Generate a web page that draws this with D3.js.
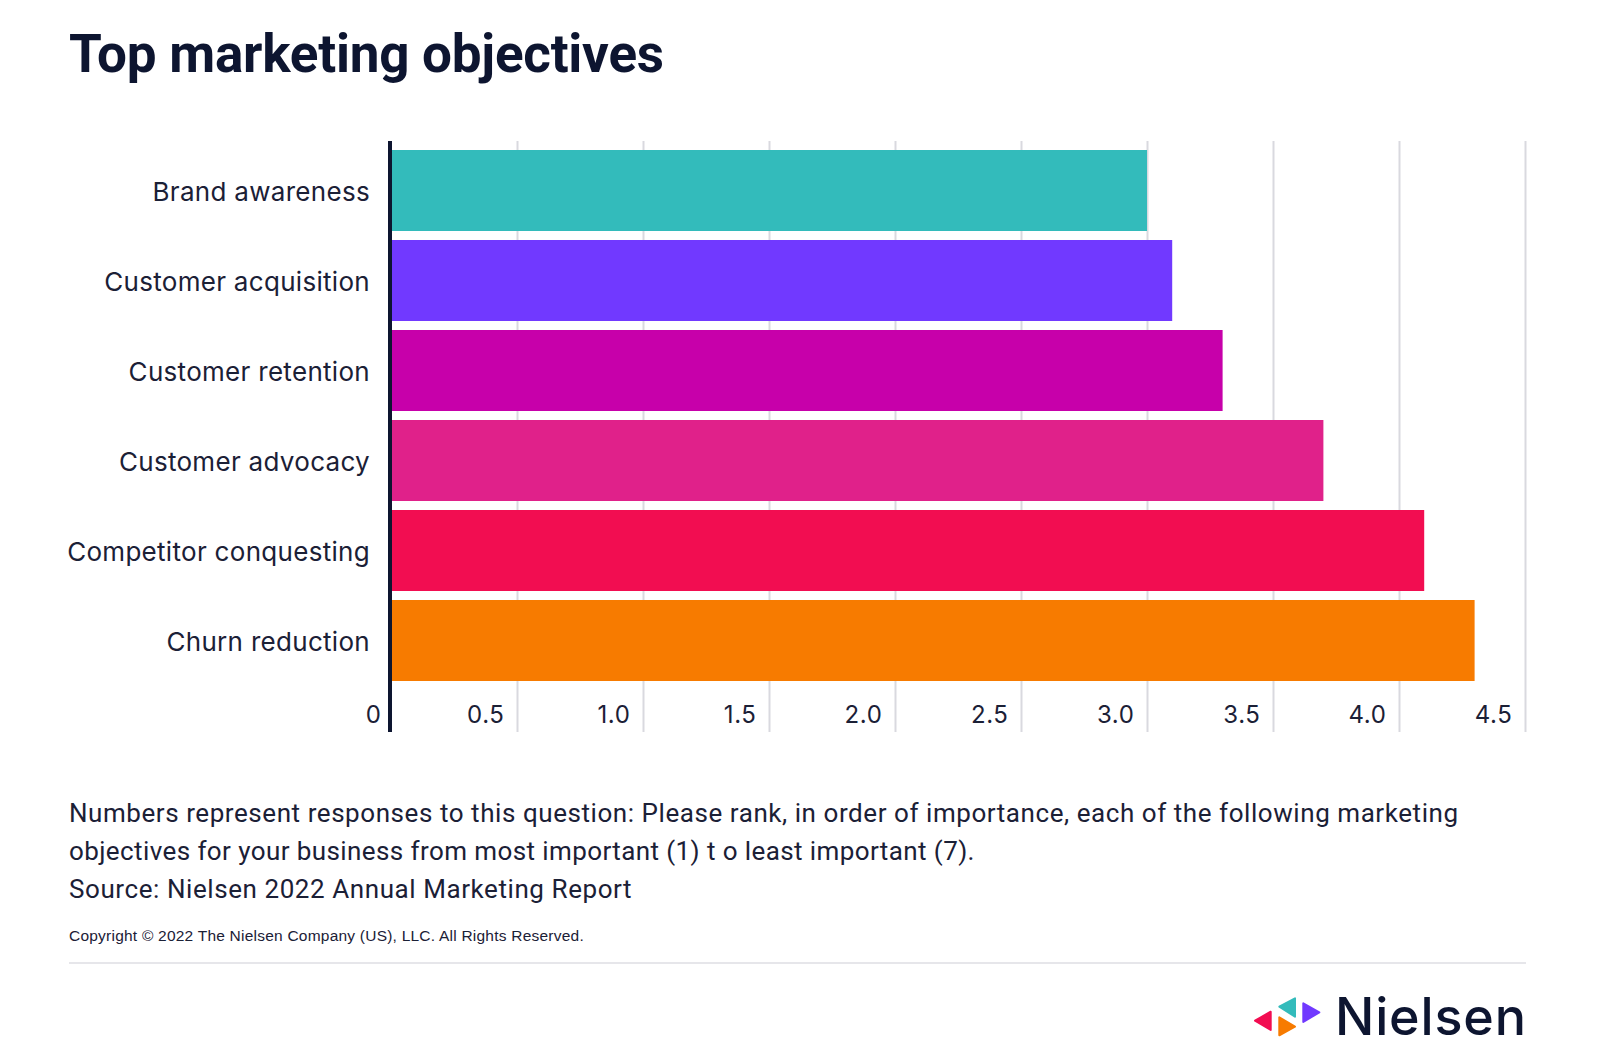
<!DOCTYPE html>
<html>
<head>
<meta charset="utf-8">
<script src="https://cdn.jsdelivr.net/npm/d3@7"></script>
<style>
  html, body { margin: 0; padding: 0; background: #ffffff; }
  svg { display: block; }
</style>
</head>
<body>
<svg id="chart" width="1600" height="1057"></svg>
<script>
// ---- data ----
const categories = ["Brand awareness", "Customer acquisition", "Customer retention", "Customer advocacy", "Competitor conquesting", "Churn reduction"];
const values = [3.0, 3.1, 3.3, 3.7, 4.1, 4.3];
const barColors = ["#33BBBB", "#7139FF", "#C700AA", "#E0218A", "#F20D51", "#F77B00"];
const tickValues = [0, 0.5, 1.0, 1.5, 2.0, 2.5, 3.0, 3.5, 4.0, 4.5];
const tickLabels = ["0", "0.5", "1.0", "1.5", "2.0", "2.5", "3.0", "3.5", "4.0", "4.5"];
const titleText = "Top marketing objectives";
const noteLines = [
  "Numbers represent responses to this question: Please rank, in order of importance, each of the following marketing",
  "objectives for your business from most important (1) t o least important (7).",
  "Source: Nielsen 2022 Annual Marketing Report"
];
const copyrightText = "Copyright \u00A9 2022 The Nielsen Company (US), LLC. All Rights Reserved.";
const logoText = "Nielsen";
const logoColors = ["#F20D51", "#33BBBB", "#F77B00", "#7139FF"];

// ---- layout ----
const svg = d3.select("#chart");
const navy = "#0D1530";
const textCol = "#1B2036";
const plotTop = 141, plotBottom = 732;

const x = d3.scaleLinear().domain([0, 4.5]).range([391, 1525]);
const y = d3.scaleBand().domain(categories).range([145.5, 685.5]).paddingInner(0.1).paddingOuter(0.05);

// helper: fit letter-spacing so a text spans a target width
function fit(sel, target) {
  const node = sel.node();
  const n = sel.text().length;
  const w = node.getComputedTextLength();
  const ls = (target - w) / Math.max(1, n - 1);
  sel.attr("letter-spacing", ls.toFixed(3));
}

// title
const title = svg.append("text")
  .attr("x", 69).attr("y", 71.5)
  .attr("font-family", "Roboto, 'Noto Sans', sans-serif")
  .attr("font-weight", 700).attr("font-size", 53)
  .attr("fill", navy).text(titleText);
fit(title, 595);

// gridlines
const grid = svg.append("g").attr("transform", `translate(0,${plotTop})`)
  .call(d3.axisBottom(x).tickValues(tickValues.slice(1)).tickSize(plotBottom - plotTop).tickFormat(""));
grid.select(".domain").remove();
grid.selectAll("line").attr("stroke", "#D9D9DF").attr("stroke-width", 2);

// bars
svg.append("g").selectAll("rect").data(categories).join("rect")
  .attr("x", x(0))
  .attr("y", d => y(d))
  .attr("width", (d, i) => x(values[i]) - x(0))
  .attr("height", y.bandwidth())
  .attr("fill", (d, i) => barColors[i]);

// zero axis line
svg.append("line")
  .attr("x1", x(0) - 1).attr("x2", x(0) - 1)
  .attr("y1", plotTop).attr("y2", plotBottom)
  .attr("stroke", navy).attr("stroke-width", 4);

// x tick labels
const xAxis = svg.append("g").attr("transform", `translate(0,722.7)`)
  .call(d3.axisBottom(x).tickValues(tickValues).tickSize(0).tickPadding(0)
    .tickFormat((d, i) => tickLabels[i]));
xAxis.select(".domain").remove();
xAxis.selectAll("text")
  .attr("y", 0).attr("dy", 0)
  .attr("x", (d, i) => i === 0 ? -10 : -13)
  .attr("text-anchor", "end")
  .attr("font-family", "Inter, 'Noto Sans', sans-serif")
  .attr("font-size", 24)
  .attr("letter-spacing", 0.6)
  .attr("fill", textCol);

// y category labels
const yAxis = svg.append("g").attr("transform", `translate(370,0)`)
  .call(d3.axisLeft(y).tickSize(0).tickPadding(0));
yAxis.select(".domain").remove();
yAxis.selectAll("text")
  .attr("x", 0).attr("dy", 0)
  .attr("y", 10)
  .attr("text-anchor", "end")
  .attr("font-family", "Inter, 'Noto Sans', sans-serif")
  .attr("font-size", 26)
  .attr("letter-spacing", 0.3)
  .attr("fill", textCol);

// footnotes
const noteBase = [821.5, 859.5, 898];
const noteWidths = [1389, 905.5, 562.6];
noteLines.forEach((t, i) => {
  const s = svg.append("text")
    .attr("x", 69).attr("y", noteBase[i])
    .attr("font-family", "Roboto, 'Noto Sans', sans-serif")
    .attr("font-size", 26)
    .attr("fill", textCol).text(t);
  fit(s, noteWidths[i]);
});

// copyright
const cr = svg.append("text")
  .attr("x", 69).attr("y", 941)
  .attr("font-family", "'Liberation Sans', Arial, sans-serif")
  .attr("font-size", 15.5)
  .attr("fill", textCol).text(copyrightText);
fit(cr, 514.7);

// separator
svg.append("line")
  .attr("x1", 69).attr("x2", 1526).attr("y1", 963).attr("y2", 963)
  .attr("stroke", "#E6E6EA").attr("stroke-width", 2);

// logo triangles
const tri = [
  [[1255, 1020.7], [1270.7, 1011.7], [1270.7, 1030]],
  [[1279.3, 1006.7], [1295, 998.3], [1295, 1016.7]],
  [[1279.3, 1017.3], [1279.3, 1035.3], [1295, 1026.7]],
  [[1303.3, 1003.3], [1303.3, 1022], [1319.3, 1012.3]]
];
svg.append("g").selectAll("path").data(tri).join("path")
  .attr("d", d => "M" + d.map(p => p.join(",")).join("L") + "Z")
  .attr("fill", (d, i) => logoColors[i])
  .attr("stroke", (d, i) => logoColors[i])
  .attr("stroke-width", 2).attr("stroke-linejoin", "round");

const logo = svg.append("text")
  .attr("x", 1335).attr("y", 1035)
  .attr("font-family", "Inter, 'Noto Sans', sans-serif")
  .attr("font-weight", 500).attr("font-size", 52)
  .attr("fill", navy).text(logoText);
fit(logo, 191);
</script>
</body>
</html>
